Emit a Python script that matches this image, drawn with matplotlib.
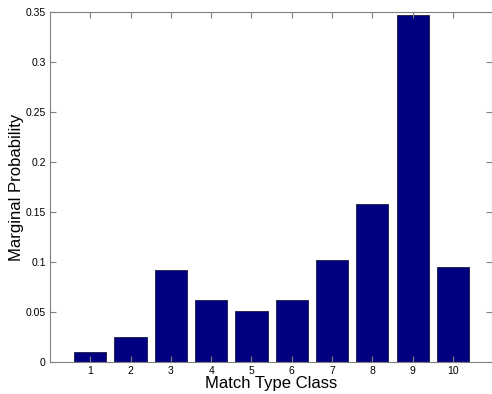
import numpy as np
import matplotlib
matplotlib.use("Agg")
import matplotlib.pyplot as plt

classes = [1, 2, 3, 4, 5, 6, 7, 8, 9, 10]
probs = [0.0097, 0.0255, 0.092, 0.0625, 0.0515, 0.0623, 0.102, 0.158, 0.347, 0.0953]
yticks = [0, 0.05, 0.1, 0.15, 0.2, 0.25, 0.3, 0.35]
ytick_labels = ["0", "0.05", "0.1", "0.15", "0.2", "0.25", "0.3", "0.35"]

plt.rcParams["font.family"] = ["Liberation Sans", "DejaVu Sans"]

fig = plt.figure(figsize=(4.92, 3.94), dpi=100)
ax = fig.add_axes([50/492, 32/394, 442/492, 350/394])

ax.bar(classes, probs, width=0.8, color="#000080", edgecolor="#1a1a40", linewidth=0.6)

ax.set_xlim(0, 10.97)
ax.set_ylim(0, 0.35)
ax.set_xticks(classes)
ax.set_yticks(yticks)
ax.set_yticklabels(ytick_labels)

for s in ax.spines.values():
    s.set_color("#808080")
    s.set_linewidth(0.8)
ax.tick_params(direction="in", top=True, right=True, length=4, width=0.8,
               color="#808080", labelsize=7.5, pad=3)

ax.set_xlabel("Match Type Class", fontsize=12, labelpad=0)
ax.set_ylabel("Marginal Probability", fontsize=12, labelpad=1)

fig.savefig("out.png", dpi=100)
